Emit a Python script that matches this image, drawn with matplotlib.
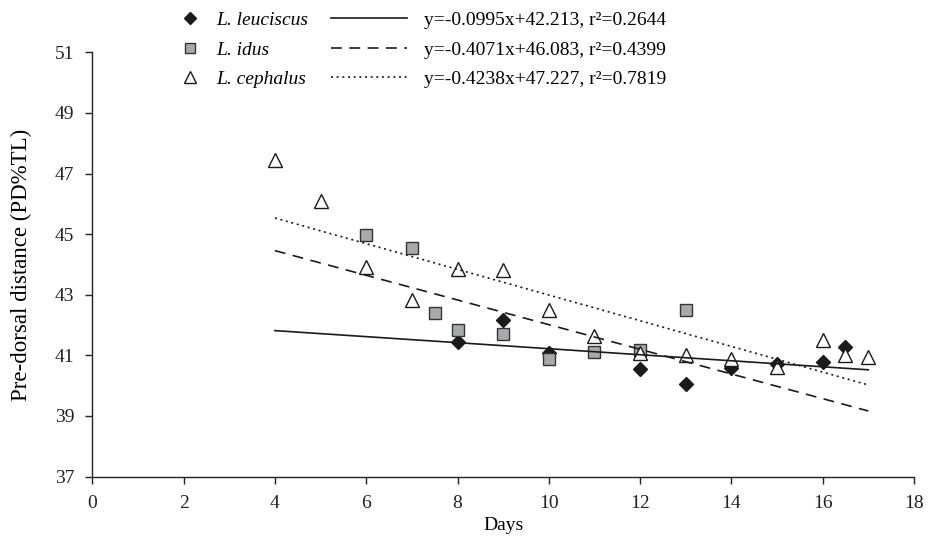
import numpy as np
import matplotlib
matplotlib.use("Agg")
import matplotlib.pyplot as plt
from matplotlib.lines import Line2D

plt.rcParams['font.family'] = ['Liberation Serif', 'DejaVu Serif']

# data
leu_x = [8, 9, 10, 12, 13, 14, 15, 16, 16.5]
leu_y = [41.44, 42.17, 41.09, 40.56, 40.04, 40.59, 40.70, 40.79, 41.28]

idus_x = [6, 7, 7.5, 8, 9, 10, 11, 12, 13]
idus_y = [44.96, 44.55, 42.41, 41.82, 41.71, 40.88, 41.12, 41.17, 42.48]

ceph_x = [4, 5, 6, 7, 8, 9, 10, 11, 12, 13, 14, 15, 16, 16.5, 17]
ceph_y = [47.46, 46.10, 43.91, 42.81, 43.86, 43.80, 42.49, 41.63, 41.08,
          41.01, 40.88, 40.61, 41.49, 41.00, 40.94]

names = ["L. leuciscus", "L. idus", "L. cephalus"]
slopes = [-0.0995, -0.4071, -0.4238]
intercepts = [42.213, 46.083, 47.227]
r2 = [0.2644, 0.4399, 0.7819]
trend_range = [4, 17]

fs = 14
fig = plt.figure(figsize=(9.29, 5.36), dpi=100)
ax = fig.add_axes([0.0994, 0.111, 0.8844, 0.7914])

# points
ax.plot(leu_x, leu_y, ls='none', marker='D', ms=7.2, mfc='#1a1a1a', mec='#1a1a1a', zorder=3)
ax.plot(idus_x, idus_y, ls='none', marker='s', ms=8.3, mfc='#a8a9ab', mec='#333333', mew=1.0, zorder=3)
ax.plot(ceph_x, ceph_y, ls='none', marker='^', ms=10.5, mfc='white', mec='#1a1a1a', mew=1.0, zorder=3)

# trend lines
styles = ['-', (0, (6.5, 4.5)), (0, (1.2, 2.2))]
xx = np.array(trend_range)
line_handles = []
for s, b, st in zip(slopes, intercepts, styles):
    ln, = ax.plot(xx, s * xx + b, color='#1a1a1a', lw=1.2, ls=st, zorder=4)
    line_handles.append(ln)

ax.set_xlim(0, 18)
ax.set_ylim(37, 51)
ax.set_xticks(np.arange(0, 19, 2))
ax.set_yticks(np.arange(37, 52, 2))
ax.spines['top'].set_visible(False)
ax.spines['right'].set_visible(False)
for sp in ['left', 'bottom']:
    ax.spines[sp].set_linewidth(1.0)
    ax.spines[sp].set_color('#222222')
ax.tick_params(axis='x', length=5, width=1.0, pad=8, labelsize=fs, colors='#222222')
ax.tick_params(axis='y', length=5, width=1.0, pad=8, labelsize=fs, colors='#222222')
ax.set_xlabel("Days", fontsize=14, labelpad=4)
ax.set_ylabel("Pre-dorsal distance (PD%TL)", fontsize=16.5, labelpad=16)

# legends
mk_handles = [
    Line2D([], [], ls='none', marker='D', ms=6.5, mfc='#1a1a1a', mec='#1a1a1a'),
    Line2D([], [], ls='none', marker='s', ms=7.5, mfc='#a8a9ab', mec='#333333'),
    Line2D([], [], ls='none', marker='^', ms=9, mfc='white', mec='#1a1a1a'),
]
leg1 = fig.legend(mk_handles, names, loc='upper left', bbox_to_anchor=(0.184, 0.997),
                  frameon=False, borderpad=0, handlelength=1.0, handletextpad=0.85,
                  labelspacing=0.62, prop={'size': fs, 'style': 'italic'})
eqs = ["y=%.4fx+%.3f, r²=%.4f" % (s, b, r) for s, b, r in zip(slopes, intercepts, r2)]
leg2 = fig.legend(line_handles, eqs, loc='upper left', bbox_to_anchor=(0.346, 0.997),
                  frameon=False, borderpad=0, handlelength=3.9, handletextpad=0.9,
                  labelspacing=0.62, prop={'size': fs})

fig.savefig("out.png", dpi=100)
